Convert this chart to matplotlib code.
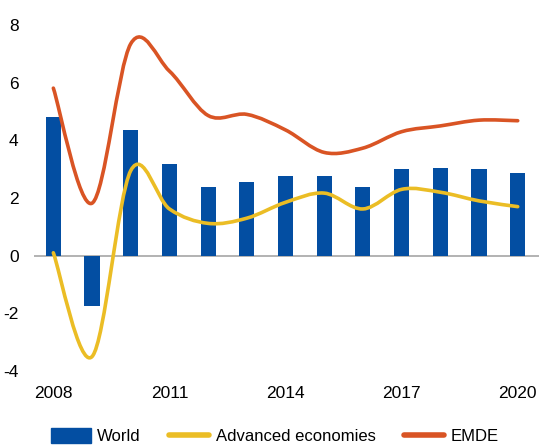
import matplotlib
matplotlib.use("Agg")
import matplotlib.pyplot as plt
from matplotlib.path import Path
from matplotlib.patches import PathPatch
from matplotlib.lines import Line2D
from matplotlib.patches import Rectangle

years = [2008, 2009, 2010, 2011, 2012, 2013, 2014, 2015, 2016, 2017, 2018, 2019, 2020]
world = [4.8, -1.76, 4.36, 3.18, 2.39, 2.56, 2.77, 2.77, 2.39, 3.0, 3.05, 3.0, 2.87]
advanced = [0.1, -3.5, 2.95, 1.62, 1.12, 1.3, 1.85, 2.17, 1.62, 2.3, 2.2, 1.9, 1.7]
emde = [5.81, 1.82, 7.35, 6.4, 4.86, 4.9, 4.36, 3.58, 3.73, 4.3, 4.5, 4.7, 4.68]
xtick_years = [2008, 2011, 2014, 2017, 2020]
yticks = [-4, -2, 0, 2, 4, 6, 8]

plt.rcParams['font.family'] = ['Liberation Sans', 'DejaVu Sans']

BLUE = "#034EA2"
YELLOW = "#EBBD25"
ORANGE = "#D95424"

fig = plt.figure(figsize=(5.39, 4.48), dpi=100)
ax = fig.add_axes([34/539, 1-371/448, 505/539, 346/448])

ax.bar(years, world, width=0.39, color=BLUE, zorder=2)
ax.axhline(0, color="#A6A6A6", lw=1.2, zorder=1)

def smooth_path(xs, ys):
    pts = list(zip(xs, ys))
    verts = [pts[0]]
    codes = [Path.MOVETO]
    n = len(pts)
    for i in range(n - 1):
        p0 = pts[i - 1] if i > 0 else pts[i]
        p1 = pts[i]
        p2 = pts[i + 1]
        p3 = pts[i + 2] if i + 2 < n else pts[i + 1]
        c1 = (p1[0] + (p2[0] - p0[0]) / 6, p1[1] + (p2[1] - p0[1]) / 6)
        c2 = (p2[0] - (p3[0] - p1[0]) / 6, p2[1] - (p3[1] - p1[1]) / 6)
        verts += [c1, c2, p2]
        codes += [Path.CURVE4] * 3
    return Path(verts, codes)

ax.add_patch(PathPatch(smooth_path(years, advanced), fill=False, ec=YELLOW, lw=2.6,
                       capstyle="round", joinstyle="round", zorder=3))
ax.add_patch(PathPatch(smooth_path(years, emde), fill=False, ec=ORANGE, lw=2.6,
                       capstyle="round", joinstyle="round", zorder=4))

ax.set_xlim(2007.5, 2020.55)
ax.set_ylim(-4, 8)
ax.set_xticks(xtick_years)
ax.set_xticklabels([str(y) for y in xtick_years])
ax.set_yticks(yticks)
ax.set_yticklabels([str(y) for y in yticks])
ax.tick_params(axis="both", length=0, labelsize=12.5, colors="black")
ax.tick_params(axis="y", pad=11)
ax.tick_params(axis="x", pad=11)
for s in ax.spines.values():
    s.set_visible(False)

handles = [Rectangle((0, 0), 1, 1, color=BLUE),
           Line2D([], [], color=YELLOW, lw=4, solid_capstyle="round"),
           Line2D([], [], color=ORANGE, lw=4, solid_capstyle="round")]
fig.legend(handles, ["World", "Advanced economies", "EMDE"], loc="center",
           bbox_to_anchor=(0.51, 0.026), ncol=3, frameon=False, fontsize=12,
           handlelength=2.4, handleheight=1.0, handletextpad=0.4, columnspacing=1.7,
           borderpad=0.1)

fig.savefig("out.png", dpi=100)
